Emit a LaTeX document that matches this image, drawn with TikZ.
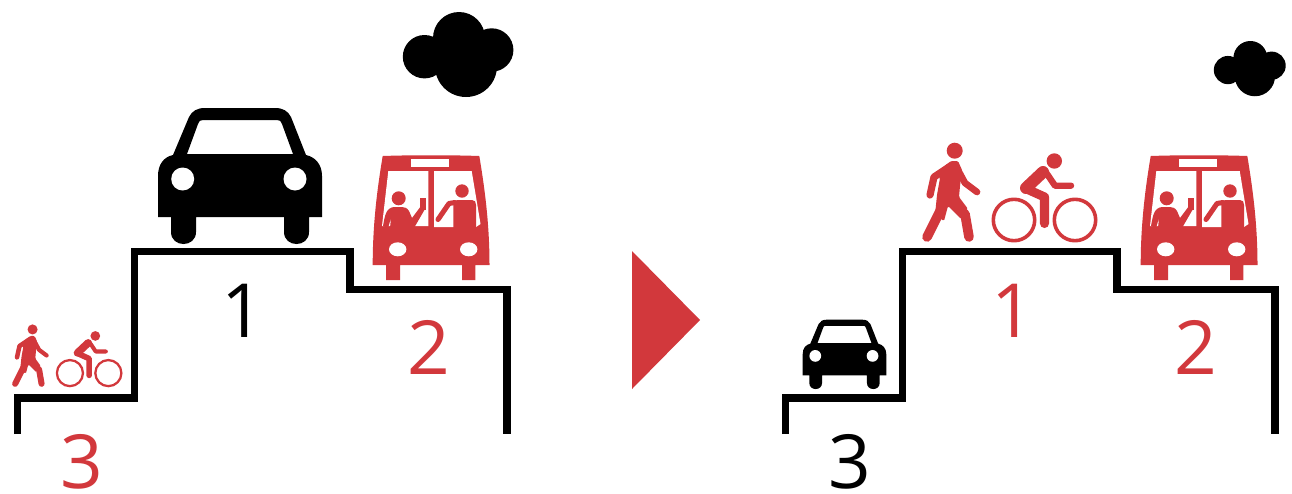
\documentclass[tikz,border=0pt]{standalone}
\usepackage{fontspec}
\setmainfont{Open Sans}
\definecolor{accent}{HTML}{D2383C}
\tikzset{
  stairs/.style={line width=5.4pt,miter limit=10,black},
  numlabel/.style={font=\fontsize{56}{60}\selectfont,inner sep=0pt,anchor=base},
}
% icons drawn in reference pixel coordinates; #1 = scale, used for stroke widths
\newcommand{\iconcar}{%
  \fill[black,even odd rule]
    (158,217) -- (158,176) .. controls (158,164) and (164,157) .. (173,155)
    -- (189,117) .. controls (192,111) and (197,108) .. (205,108)
    -- (275,108) .. controls (283,108) and (288,111) .. (291,117)
    -- (306,155) .. controls (315,157) and (322,164) .. (322,176)
    -- (322,217) -- (309,217) -- (309,232) .. controls (309,248) and (284,248) .. (284,232)
    -- (284,217) -- (196,217) -- (196,232) .. controls (196,248) and (171,248) .. (171,232)
    -- (171,217) -- cycle
    (187,154) -- (198,124) .. controls (199,121) and (200,120) .. (203,120)
    -- (277,120) .. controls (280,120) and (281,121) .. (282,124) -- (293,154) -- cycle;
  \fill[white] (182.7,179) circle (11.5) (295,179) circle (11.5);
}
\newcommand{\iconbus}[1]{%
  \fill[accent] (382.7,156) .. controls (410,155) and (452,155) .. (479.3,156)
    .. controls (485,190) and (489.5,225) .. (489.5,265) -- (475.3,265) -- (475.3,280) -- (462,280) -- (462,265)
    -- (400,265) -- (400,280) -- (386,280) -- (386,265) -- (372.7,265)
    .. controls (372.7,225) and (377,190) .. (382.7,156) -- cycle;
  \fill[white] (411,159) rectangle (449,166.7);
  \fill[white] (388.3,171) -- (428.3,171) -- (428.3,226) -- (382,226) -- cycle;
  \fill[white] (434,171) -- (471.7,171) -- (480.5,224) -- (476,227) -- (434,227) -- cycle;
  \fill[white] (397.7,249.3) ellipse (8.7 and 7) (468.7,249.3) ellipse (8.7 and 7);
  % left rider
  \fill[accent] (398.7,198.3) circle (7);
  \fill[accent] (383,226) .. controls (385,215) and (386,208) .. (394,207)
    -- (402,207) .. controls (405,207) and (407,208) .. (409,211) -- (412,218)
    -- (421,206) -- (425,209) -- (414,228) -- (390,228) -- (391,218) -- (388,228) -- cycle;
  \fill[accent] (420.3,198.3) rectangle (425.7,210);
  % right rider
  \fill[accent] (462,191) circle (6.7);
  \fill[accent] (453.3,228) -- (453.3,204) .. controls (453.3,201) and (455,200) .. (458,200)
    -- (472,200) .. controls (475,200) and (476,202) .. (476,205) -- (476,228) -- cycle;
  \draw[accent,line width=#1*3.8pt,line cap=round,line join=round] (455,202.5) -- (449,203.5) -- (438,219.5);
}
\newcommand{\iconwalker}[1]{%
  \fill[accent] (954.7,150.7) circle (8);
  \fill[accent,rounded corners=1pt] (947,164) -- (951,161) -- (958,161) -- (962,170) -- (960,186) -- (959,197) -- (968,209)
    -- (961,219) -- (948,206) -- (944,221) -- (935,215) -- (937,195) -- (940,178) -- (938,172) -- cycle;
  \begin{scope}[accent,line cap=round,line join=round]
    \draw[line width=#1*5.4pt] (949,167) -- (934,177) -- (930,195);
    \draw[line width=#1*5pt] (958,170) -- (965,183) -- (977,192);
    \draw[line width=#1*7.2pt] (940,211) -- (927,237);
    \draw[line width=#1*7.2pt] (965,214) -- (969,237);
  \end{scope}
}
\newcommand{\iconcyclist}[1]{%
  \fill[accent] (1054.3,161) circle (7.7);
  \begin{scope}[accent,line cap=round,line join=round]
    \draw[line width=#1*9pt] (1043,172) -- (1026,188);
    \draw[line width=#1*4.8pt] (1045,171) -- (1055,185.7) -- (1071,185.7);
    \draw[line width=#1*6.8pt] (1029,190) -- (1044.5,197) -- (1044.5,223.5);
    \draw[line width=#1*2.7pt] (1014,220) circle (20.7) (1075,220) circle (20.7);
  \end{scope}
}
\newcommand{\iconcloud}{%
  \fill[black] (459,38) circle (26) (466,66) circle (31) (424.5,56.7) circle (21.7) (491.7,50) circle (21.7);
}
\begin{document}
\begin{tikzpicture}[x=0.75pt,y=-0.75pt]
\useasboundingbox (0,0) rectangle (1292,493);
% left stairs
\draw[stairs] (17.8,434) -- (17.8,398) -- (134.5,398) -- (134.5,251.7) -- (350,251.7) -- (350,289.4) -- (507,289.4) -- (507,434);
% right stairs
\draw[stairs] (785.8,434) -- (785.8,398) -- (902.5,398) -- (902.5,251.7) -- (1117,251.7) -- (1117,289.4) -- (1275,289.4) -- (1275,434);
% left icons
\iconcar
\iconbus{1}
\begin{scope}[shift={(-568.9,234.5)},scale=0.63]
  \iconwalker{0.63}
  \iconcyclist{0.63}
\end{scope}
\iconcloud
% arrow
\fill[accent] (632,251) -- (700,320) -- (632,389) -- cycle;
% right icons
\begin{scope}[shift={(722.1,264.6)},scale=0.51]
  \iconcar
\end{scope}
\begin{scope}[xshift=768*0.75pt]
  \iconbus{1}
\end{scope}
\iconwalker{1}
\iconcyclist{1}
\begin{scope}[shift={(952,33.2)},scale=0.65]
  \iconcloud
\end{scope}
% numbers
\node[numlabel,text=black] (l1) at (243,337.3) {1};
\node[numlabel,text=accent] (l2) at (429,374) {2};
\node[numlabel,text=accent] (l3) at (81.5,488.5) {3};
\node[numlabel,text=accent] (r1) at (1013,337.3) {1};
\node[numlabel,text=accent] (r2) at (1196,374) {2};
\node[numlabel,text=black] (r3) at (849.5,488.5) {3};
\end{tikzpicture}
\end{document}
